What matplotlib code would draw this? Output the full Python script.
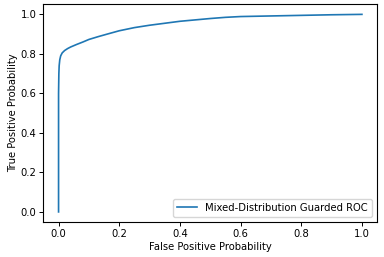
import matplotlib
matplotlib.use("Agg")
import matplotlib.pyplot as plt

fpr = [0.0, 0.0, 0.001, 0.002, 0.004, 0.007, 0.012, 0.02, 0.03, 0.04, 0.06, 0.08,
       0.1, 0.13, 0.16, 0.2, 0.25, 0.3, 0.35, 0.4, 0.45, 0.5, 0.55, 0.6, 0.7, 0.8, 0.9, 1.0]
tpr = [0.0, 0.6, 0.7, 0.74, 0.77, 0.79, 0.805, 0.817, 0.827, 0.835, 0.848, 0.86,
       0.873, 0.887, 0.9, 0.917, 0.933, 0.945, 0.955, 0.965, 0.972, 0.979, 0.985, 0.989,
       0.992, 0.995, 0.998, 1.0]
label = "Mixed-Distribution Guarded ROC"

fs = 7.2
fig = plt.figure(figsize=(3.84, 2.57), dpi=100)
ax = fig.add_axes([0.113, 0.137, 0.869, 0.8455])
ax.plot(fpr, tpr, color="#1f77b4", lw=1.2, label=label)
ax.set_xlabel("False Positive Probability", fontsize=fs, labelpad=2)
ax.set_ylabel("True Positive Probability", fontsize=fs, labelpad=2)
ax.tick_params(labelsize=fs, length=3, width=0.7, pad=2)
for s in ax.spines.values():
    s.set_linewidth(0.8)
ax.legend(loc="lower right", fontsize=fs, handlelength=2, borderpad=0.4)
fig.savefig("out.png", dpi=100)
